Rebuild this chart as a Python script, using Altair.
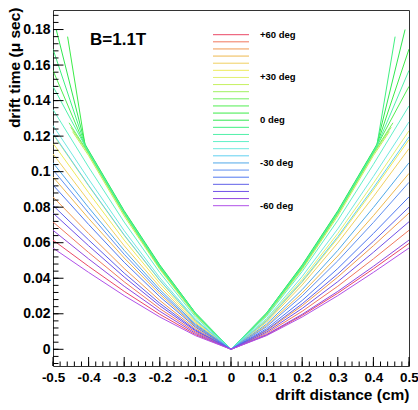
import altair as alt
import pandas as pd

# ---------------- data ----------------
angles = [60, 55, 50, 45, 40, 35, 30, 25, 20, 15, 10, 5, 0,
          -5, -10, -15, -20, -25, -30, -35, -40, -45, -50, -55, -60]
colors = ["#ea4866", "#f0785e", "#f09a50", "#eeb84e", "#f0d060", "#eeea5a",
          "#e2f070", "#c6f060", "#a0f060", "#72f060", "#50ee50", "#3cec48",
          "#30e850", "#40f080", "#50f0a8", "#60f0c8", "#70e8e0", "#60d0f0",
          "#50a8e8", "#6090f0", "#5078f0", "#6060e8", "#7050e8", "#9048e0",
          "#b050e8"]

D_std = [-0.5, -0.4, -0.3, -0.2, -0.1, 0.0, 0.1, 0.2, 0.3, 0.4, 0.5]

t_p60 = [.0615, .0467, .0326, .0197, .0083, 0, .0080, .0191, .0316, .0453, .0596]
t_m60 = [.0570, .0433, .0302, .0182, .0077, 0, .0077, .0182, .0302, .0433, .0570]
t_p55 = [.0717, .0545, .0380, .0229, .0097, 0, .0090, .0214, .0355, .0509, .0670]
t_m55 = [.0670, .0509, .0355, .0214, .0090, 0, .0083, .0197, .0326, .0467, .0615]
t_p50 = [.0858, .0652, .0455, .0275, .0116, 0, .0104, .0245, .0407, .0583, .0767]
t_m50 = [.0767, .0583, .0407, .0245, .0104, 0, .0097, .0230, .0381, .0546, .0718]
t_p45 = [.0970, .0737, .0514, .0310, .0131, 0, .0134, .0317, .0525, .0752, .0990]
t_m45 = [.0810, .0616, .0429, .0259, .0109, 0, .0108, .0256, .0424, .0608, .0800]
t_p40 = [.1100, .0836, .0583, .0352, .0149, 0, .0153, .0362, .0599, .0859, .1130]
t_m40 = [.0925, .0703, .0490, .0296, .0125, 0, .0116, .0275, .0455, .0652, .0858]
t_p35 = [.1160, .0882, .0615, .0371, .0157, 0, .0159, .0378, .0625, .0897, .1180]
t_m35 = [.1010, .0768, .0535, .0323, .0136, 0, .0127, .0301, .0498, .0714, .0940]
t_p30 = [.1210, .0920, .0641, .0387, .0163, 0, .0166, .0394, .0652, .0935, .1230]
t_m30 = [.1050, .0798, .0557, .0336, .0142, 0, .0142, .0336, .0557, .0798, .1050]
t_m25 = [.1215, .0923, .0644, .0389, .0164, 0, .0161, .0383, .0634, .0909, .1196]
t_m20 = [.1260, .0958, .0668, .0403, .0170, 0, .0173, .0410, .0678, .0973, .1280]
t_m15 = [.1350, .1026, .0716, .0432, .0182, 0, .0185, .0438, .0726, .1041, .1370]

# curves that stop before the frame edge
d_p25 = [-0.445, -0.4, -0.3, -0.2, -0.1, 0.0, 0.1, 0.2, 0.3, 0.4, 0.445]
t_p25 = [.1225, .1090, .0750, .0450, .0190, 0, .0190, .0450, .0750, .1090, .1225]
d_p20 = [-0.45, -0.4, -0.3, -0.2, -0.1, 0.0, 0.1, 0.2, 0.3, 0.4, 0.45]
t_p20 = [.1250, .1100, .0760, .0455, .0195, 0, .0195, .0455, .0760, .1100, .1250]
d_p15 = [-0.455, -0.4, -0.3, -0.2, -0.1, 0.0, 0.1, 0.2, 0.3, 0.4, 0.455]
t_p15 = [.1275, .1105, .0765, .0460, .0198, 0, .0198, .0460, .0765, .1105, .1275]

# kinked green curves
d_p10 = [-0.5, -0.41, -0.4, -0.3, -0.2, -0.1, 0.0, 0.1, 0.2, 0.3, 0.4, 0.41, 0.5]
t_p10 = [.1570, .1145, .1110, .0770, .0465, .0200, 0, .0200, .0465, .0770, .1110, .1145, .1480]
d_m10 = [-0.5, -0.41, -0.4, -0.3, -0.2, -0.1, 0.0, 0.1, 0.2, 0.3, 0.4, 0.41, 0.5]
t_m10 = [.1480, .1145, .1110, .0770, .0465, .0200, 0, .0200, .0465, .0770, .1110, .1145, .1570]
d_p5 = [-0.459, -0.41, -0.4, -0.3, -0.2, -0.1, 0.0, 0.1, 0.2, 0.3, 0.4, 0.41, 0.5]
t_p5 = [.1760, .1150, .1115, .0775, .0470, .0203, 0, .0203, .0470, .0775, .1115, .1150, .1690]
d_m5 = [-0.5, -0.41, -0.4, -0.3, -0.2, -0.1, 0.0, 0.1, 0.2, 0.3, 0.4, 0.41, 0.461]
t_m5 = [.1690, .1150, .1115, .0775, .0470, .0203, 0, .0203, .0470, .0775, .1115, .1150, .1760]
d_0 = [-0.491, -0.41, -0.4, -0.3, -0.2, -0.1, 0.0, 0.1, 0.2, 0.3, 0.4, 0.41, 0.489]
t_0 = [.1800, .1155, .1120, .0780, .0475, .0205, 0, .0205, .0475, .0780, .1120, .1155, .1800]

curves = {
    60: (D_std, t_p60), 55: (D_std, t_p55), 50: (D_std, t_p50), 45: (D_std, t_p45),
    40: (D_std, t_p40), 35: (D_std, t_p35), 30: (D_std, t_p30), 25: (d_p25, t_p25),
    20: (d_p20, t_p20), 15: (d_p15, t_p15), 10: (d_p10, t_p10), 5: (d_p5, t_p5),
    0: (d_0, t_0), -5: (d_m5, t_m5), -10: (d_m10, t_m10), -15: (D_std, t_m15),
    -20: (D_std, t_m20), -25: (D_std, t_m25), -30: (D_std, t_m30), -35: (D_std, t_m35),
    -40: (D_std, t_m40), -45: (D_std, t_m45), -50: (D_std, t_m50), -55: (D_std, t_m55),
    -60: (D_std, t_m60),
}

x_major = [-0.5, -0.4, -0.3, -0.2, -0.1, 0.0, 0.1, 0.2, 0.3, 0.4, 0.5]
y_major = [0, 0.02, 0.04, 0.06, 0.08, 0.1, 0.12, 0.14, 0.16, 0.18]
x_minor = [round(-0.5 + 0.02 * i, 3) for i in range(51)]
y_minor = [round(-0.008 + 0.004 * i, 4) for i in range(50)]

legend_angles = [60, 30, 0, -30, -60]
legend_labels = ["+60 deg", "+30 deg", "\u20020 deg", "-30 deg", "-60 deg"]
field_label = ["B=1.1T"]

# ---------------- chart ----------------
rows = []
for a in angles:
    ds, ts = curves[a]
    for d, t in zip(ds, ts):
        rows.append({"angle": a, "d": d, "t": t})
df = pd.DataFrame(rows)

FONT = "Liberation Sans"
xscale = alt.Scale(domain=[-0.5, 0.5], nice=False, zero=False)
yscale = alt.Scale(domain=[-0.0094, 0.191], nice=False, zero=False)
cscale = alt.Scale(domain=angles, range=colors)

xaxis = alt.Axis(
    values=x_major, ticks=False, domain=False, grid=False,
    labelExpr="replace(format(datum.value, '~g'), '\u2212', '-')",
    labelFont=FONT, labelFontWeight="bold", labelFontSize=13.5, labelColor="black",
    labelPadding=4, labelFlush=False, labelOverlap=False,
    title="drift distance (cm)", titleFont=FONT, titleFontWeight="bold",
    titleFontSize=15.5, titleColor="black",
    titleAlign="right", titleX=356, titleY=33, titleBaseline="alphabetic")
yaxis = alt.Axis(
    values=y_major, ticks=False, domain=False, grid=False,
    labelExpr="format(datum.value, '~g')",
    labelFont=FONT, labelFontWeight="bold", labelFontSize=14, labelColor="black",
    labelPadding=3, labelOverlap=False, labelFlush=False,
    title="drift time (\u03bc sec)", titleFont=FONT, titleFontWeight="bold",
    titleFontSize=15.5, titleColor="black", titleAngle=-90,
    titleAlign="right", titleBaseline="alphabetic", titleX=-34, titleY=-3)

lines = alt.Chart(df).mark_line(strokeWidth=1, clip=True).encode(
    x=alt.X("d:Q", scale=xscale, axis=xaxis),
    y=alt.Y("t:Q", scale=yscale, axis=yaxis),
    color=alt.Color("angle:N", scale=cscale, legend=None),
)

xt_major = alt.Chart(pd.DataFrame({"d": x_major})).mark_rule(color="black", strokeWidth=1).encode(
    x=alt.X("d:Q", scale=xscale, axis=xaxis), y=alt.value(356), y2=alt.value(347))
xt_minor = alt.Chart(pd.DataFrame({"d": x_minor})).mark_rule(color="black", strokeWidth=1).encode(
    x=alt.X("d:Q", scale=xscale, axis=xaxis), y=alt.value(356), y2=alt.value(351.5))
yt_major = alt.Chart(pd.DataFrame({"t": y_major})).mark_rule(color="black", strokeWidth=1).encode(
    y=alt.Y("t:Q", scale=yscale, axis=yaxis), x=alt.value(0), x2=alt.value(10.5))
yt_minor = alt.Chart(pd.DataFrame({"t": y_minor})).mark_rule(color="black", strokeWidth=1).encode(
    y=alt.Y("t:Q", scale=yscale, axis=yaxis), x=alt.value(0), x2=alt.value(5.5))

btext = alt.Chart(pd.DataFrame({"label": field_label})).mark_text(
    font=FONT, fontWeight="bold", fontSize=17, align="left", baseline="alphabetic", color="black"
).encode(x=alt.value(37), y=alt.value(35), text="label:N")

lscale = alt.Scale(domain=[60, -60], range=[24.7, 195.7], nice=False, zero=False)
leg_lines = alt.Chart(pd.DataFrame({"angle": angles})).mark_rule(strokeWidth=1).encode(
    y=alt.Y("angle:Q", scale=lscale, axis=None),
    x=alt.value(160), x2=alt.value(196),
    color=alt.Color("angle:N", scale=cscale, legend=None),
)
leg_text = alt.Chart(pd.DataFrame({"angle": legend_angles, "label": legend_labels})).mark_text(
    font=FONT, fontWeight="bold", fontSize=9.5, align="left", baseline="middle", color="black"
).encode(
    y=alt.Y("angle:Q", scale=lscale, axis=None),
    x=alt.value(207), text="label:N",
)

main = alt.layer(lines, xt_major, xt_minor, yt_major, yt_minor, btext)
legend = alt.layer(leg_lines, leg_text)

chart = alt.layer(main, legend).resolve_scale(y="independent").properties(
    width=356, height=356, autosize="none",
    padding={"left": 53, "top": 10, "right": 9, "bottom": 44},
    background="white",
).configure_view(stroke="#333333", strokeWidth=1)

chart.save("out.html", embed_options={"renderer": "svg", "actions": False})
